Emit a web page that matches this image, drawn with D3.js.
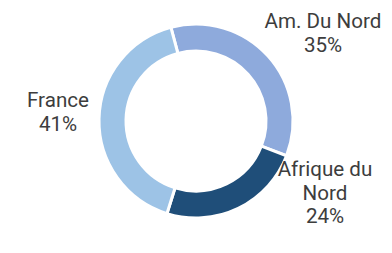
<!DOCTYPE html>
<html>
<head>
<meta charset="utf-8">
<script src="https://cdn.jsdelivr.net/npm/d3@7"></script>
<style>
  body { margin: 0; background: #fff; }
  text { font-family: Roboto, "Noto Sans", sans-serif; }
</style>
</head>
<body>
<div id="chart"></div>
<script>
const width = 392, height = 253;

// data
const regions = ["Am. Du Nord", "Afrique du Nord", "France"];
const shares = [35, 24, 41];
const colors = ["#8eaadc", "#1f4e79", "#9dc3e6"];
// label lines and where each label sits
const labelLines = [["Am. Du Nord", "35%"], ["Afrique du", "Nord", "24%"], ["France", "41%"]];
const labelPos = [[323, 28], [325, 176], [58, 107]];

let svg = d3.select("#chart")
    .append("svg")
    .attr("width", width)
    .attr("height", height);

let cx = 196, cy = 121;
let outerR = 97, innerR = 70;
let start = -15 * Math.PI / 180;

let pie = d3.pie()
    .sort(null)
    .value(d => d)
    .startAngle(start)
    .endAngle(start + 2 * Math.PI);

let arc = d3.arc()
    .innerRadius(innerR)
    .outerRadius(outerR);

let g = svg.append("g")
    .attr("transform", `translate(${cx}, ${cy})`);

g.selectAll("path")
    .data(pie(shares))
    .enter()
    .append("path")
    .attr("d", arc)
    .attr("fill", (d, i) => colors[i])
    .attr("stroke", "#fff")
    .attr("stroke-width", 3);

let labels = svg.selectAll("text.lbl")
    .data(regions)
    .enter()
    .append("text")
    .attr("class", "lbl")
    .attr("x", (d, i) => labelPos[i][0])
    .attr("y", (d, i) => labelPos[i][1])
    .style("text-anchor", "middle")
    .style("font-size", "20.6px")
    .style("fill", "#3d3d3d");

labels.each(function(d, i) {
    let t = d3.select(this);
    labelLines[i].forEach((line, j) => {
        t.append("tspan")
            .attr("x", labelPos[i][0])
            .attr("dy", j === 0 ? 0 : 23.5)
            .text(line);
    });
});
</script>
</body>
</html>
